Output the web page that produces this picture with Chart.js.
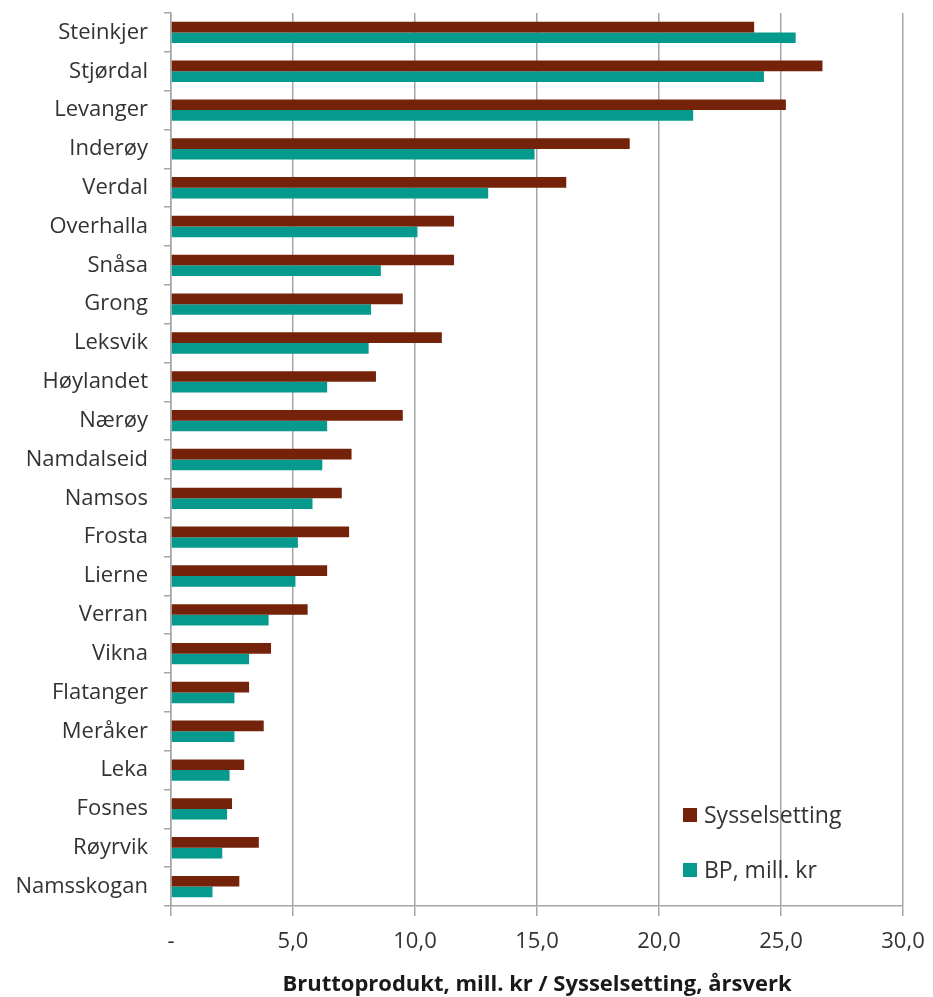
<!DOCTYPE html>
<html>
<head>
<meta charset="utf-8">
<script src="https://cdn.jsdelivr.net/npm/chart.js@4/dist/chart.umd.min.js"></script>
<style>
  html, body { margin: 0; padding: 0; background: #fff; }
  #wrap { width: 933px; height: 997px; }
</style>
</head>
<body>
<div id="wrap"><canvas id="chart" width="933" height="997"></canvas></div>
<script>
// kommuner, sortert etter bruttoprodukt
const kommuner = ['Steinkjer', 'Stjørdal', 'Levanger', 'Inderøy', 'Verdal', 'Overhalla', 'Snåsa', 'Grong',
  'Leksvik', 'Høylandet', 'Nærøy', 'Namdalseid', 'Namsos', 'Frosta', 'Lierne', 'Verran', 'Vikna',
  'Flatanger', 'Meråker', 'Leka', 'Fosnes', 'Røyrvik', 'Namsskogan'];

// årsverk
const sysselsetting = [23.9, 26.7, 25.2, 18.8, 16.2, 11.6, 11.6, 9.5, 11.1, 8.4, 9.5, 7.4, 7.0, 7.3, 6.4,
  5.6, 4.1, 3.2, 3.8, 3.0, 2.5, 3.6, 2.8];

// bruttoprodukt, mill. kr
const bp = [25.6, 24.3, 21.4, 14.9, 13.0, 10.1, 8.6, 8.2, 8.1, 6.4, 6.4, 6.2, 5.8, 5.2, 5.1, 4.0, 3.2,
  2.6, 2.6, 2.4, 2.3, 2.1, 1.7];

const xTicks = [0, 5, 10, 15, 20, 25, 30];

const fontFam = '"Open Sans", "Noto Sans", sans-serif';
const gridCol = '#a6a6a6';

// forklaring inne i plottet, nede til høyre
const legendInside = {
  id: 'legendInside',
  afterDraw(chart) {
    const ctx = chart.ctx;
    const x0 = 683, ys = [815, 870];
    ctx.save();
    ctx.font = '23px ' + fontFam;
    ctx.textBaseline = 'middle';
    chart.data.datasets.forEach((ds, i) => {
      ctx.fillStyle = ds.backgroundColor;
      ctx.fillRect(x0, ys[i] - 7, 14, 14);
      ctx.fillStyle = '#333';
      ctx.fillText(ds.label, x0 + 21, ys[i] + 1);
    });
    ctx.restore();
  }
};

new Chart('chart', {
  type: 'bar',
  data: {
    labels: kommuner,
    datasets: [
      { label: 'Sysselsetting', data: sysselsetting, backgroundColor: '#74230a' },
      { label: 'BP, mill. kr', data: bp, backgroundColor: '#06998d' }
    ]
  },
  options: {
    indexAxis: 'y',
    responsive: false,
    animation: false,
    layout: { padding: { top: 13, right: 30, left: 0, bottom: 0 } },
    datasets: { bar: { categoryPercentage: 0.55, barPercentage: 1.0 } },
    plugins: {
      legend: { display: false },
      tooltip: { enabled: false }
    },
    scales: {
      x: {
        min: 0,
        max: 30,
        afterBuildTicks(scale) { scale.ticks = xTicks.map(v => ({ value: v })); },
        afterFit(scale) {
          scale.height = 91;
          scale.paddingLeft = 0;
          scale.paddingRight = 0;
        },
        grid: { color: gridCol, lineWidth: 1.5, tickLength: 10, tickColor: gridCol },
        border: { color: gridCol, width: 1.5 },
        ticks: {
          color: '#333',
          font: { family: fontFam, size: 22 },
          padding: 13,
          maxRotation: 0,
          callback: v => v === 0 ? '-' : v.toFixed(1).replace('.', ',')
        },
        title: {
          display: true,
          text: 'Bruttoprodukt, mill. kr / Sysselsetting, årsverk',
          color: '#1a1a1a',
          font: { family: fontFam, size: 22, weight: 'bold' },
          padding: { top: 0, bottom: -1 }
        }
      },
      y: {
        afterFit(scale) {
          scale.width = 171;
          scale.paddingTop = 0;
          scale.paddingBottom = 0;
        },
        grid: { drawOnChartArea: false, offset: true, tickLength: 7, color: gridCol, lineWidth: 1.5 },
        border: { color: gridCol, width: 1.5 },
        ticks: {
          color: '#333',
          font: { family: fontFam, size: 22 },
          padding: 16,
          autoSkip: false
        }
      }
    }
  },
  plugins: [legendInside]
});
</script>
</body>
</html>
